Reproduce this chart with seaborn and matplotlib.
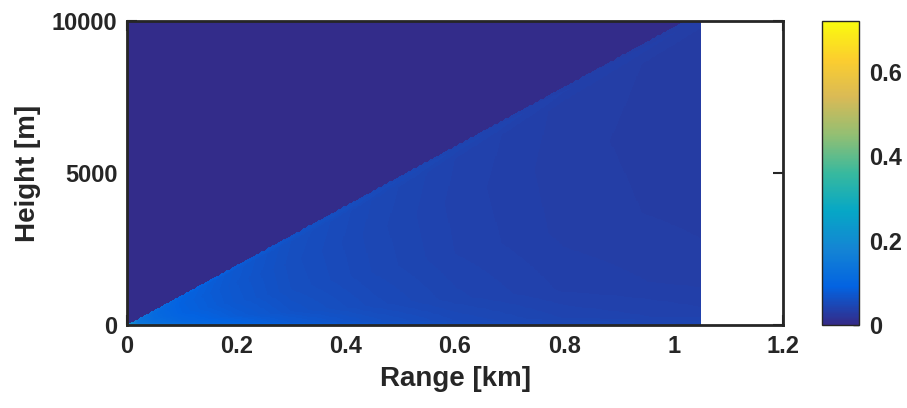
import numpy as np
import pandas as pd
import seaborn as sns
import matplotlib.pyplot as plt
from matplotlib.colors import LinearSegmentedColormap

# range samples [km] and the level read along the ground at each of them
range_km = [0.0, 0.02, 0.05, 0.1, 0.2, 0.3, 0.45, 0.6, 0.8, 1.05]
ground_level = [0.30, 0.17, 0.135, 0.11, 0.088, 0.072, 0.058, 0.048, 0.040, 0.036]

# relative height inside the lit wedge (0 = ground, 1 = wedge edge) and its weight
wedge_frac = [0.0, 0.03, 0.15, 0.4, 0.7, 0.93, 0.98, 1.0]
wedge_weight = [1.25, 1.05, 0.9, 0.82, 0.8, 0.82, 0.92, 0.85]

edge_slope = 9800.0      # m per km, edge of the wedge
background = 0.004       # level above the wedge
data_max_km = 1.05
x_ticks = [0, 0.2, 0.4, 0.6, 0.8, 1.0, 1.2]
x_labels = ['0', '0.2', '0.4', '0.6', '0.8', '1', '1.2']
y_ticks = [0, 5000, 10000]
cbar_ticks = [0, 0.2, 0.4, 0.6]
vmax = 0.72

# parula-like colours
parula = LinearSegmentedColormap.from_list('parula', [
    '#352a87', '#0363e1', '#1485d4', '#06a7c6', '#38b99e',
    '#92bf73', '#d9ba56', '#fcce2e', '#f9fb0e'])

# grid
nx, ny = 600, 400
dx, dy = 1.2 / nx, 10000.0 / ny
xc = (np.arange(nx) + 0.5) * dx
yc = (np.arange(ny) + 0.5) * dy
X, Y = np.meshgrid(xc, yc)
edge = np.maximum(X * edge_slope, 1e-6)
frac = Y / edge
field = np.interp(X, range_km, ground_level) * np.interp(frac, wedge_frac, wedge_weight)
field = np.where(frac <= 1.0, field, background)
field[X > data_max_km] = np.nan
df = pd.DataFrame(field, index=yc, columns=xc)

sns.set_theme(style='white')
plt.rcParams['font.family'] = ['Liberation Sans', 'DejaVu Sans']
plt.rcParams['font.weight'] = 'bold'
text_col = '#262626'

fig = plt.figure(figsize=(9.07, 4.08), dpi=100)
ax = fig.add_axes([127 / 907, 83 / 408, 656 / 907, 304 / 408])
cax = fig.add_axes([822 / 907, 83 / 408, 37 / 907, 304 / 408])

sns.heatmap(df, ax=ax, cbar_ax=cax, cmap=parula, vmin=0, vmax=vmax,
            xticklabels=False, yticklabels=False, rasterized=True,
            cbar_kws={'ticks': cbar_ticks})
ax.invert_yaxis()
ax.set_axisbelow(True)

for s in ax.spines.values():
    s.set_visible(True)
    s.set_color(text_col)
    s.set_linewidth(2)

ax.set_xticks([t / dx for t in x_ticks])
ax.set_xticklabels(x_labels)
ax.set_yticks([t / dy for t in y_ticks])
ax.set_yticklabels([str(t) for t in y_ticks])
ax.tick_params(axis='both', direction='in', length=7, width=1.5, color=text_col,
               labelsize=17, labelcolor=text_col, pad=7,
               top=True, right=True, bottom=True, left=True)
for lab in ax.get_xticklabels() + ax.get_yticklabels():
    lab.set_fontweight('bold')
ax.set_xlabel('Range [km]', fontsize=20, fontweight='bold', color=text_col, labelpad=6)
ax.set_ylabel('Height [m]', fontsize=20, fontweight='bold', color=text_col, labelpad=8)

cb = ax.collections[0].colorbar
cb.outline.set_visible(True)
cb.outline.set_linewidth(1)
cb.outline.set_edgecolor(text_col)
cb.ax.set_yticklabels(['0', '0.2', '0.4', '0.6'])
cb.ax.tick_params(direction='in', length=4, width=1, color=text_col,
                  labelsize=17, labelcolor=text_col, pad=7)
for lab in cb.ax.get_yticklabels():
    lab.set_fontweight('bold')

fig.savefig('out.png', dpi=100)
